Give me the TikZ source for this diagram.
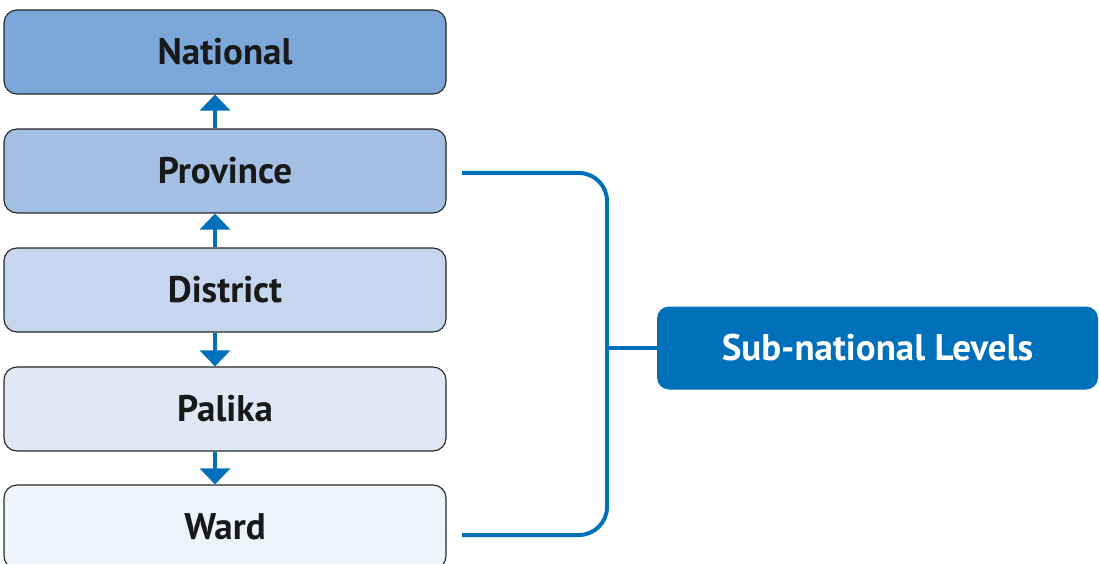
\documentclass[tikz,border=0pt]{standalone}
\usepackage{fontspec}
\setmainfont{PT Sans}
\usetikzlibrary{arrows.meta}
\definecolor{blu}{HTML}{0070BA}
\definecolor{c1}{HTML}{7CA7D9}
\definecolor{c2}{HTML}{A3BFE3}
\definecolor{c3}{HTML}{C6D6EE}
\definecolor{c4}{HTML}{E0E8F5}
\definecolor{c5}{HTML}{EEF3FA}
\tikzset{
  level/.style={draw=black!85, line width=1.1pt, rounded corners=13pt, minimum width=442pt, minimum height=84pt, inner sep=0pt, font=\fontsize{37}{40}\selectfont\bfseries, text=black!90},
  conn/.style={draw=blu, line width=3.2pt, -{Triangle[width=30pt,length=16pt]}},
  brack/.style={draw=blu, line width=4pt, rounded corners=28pt},
}
\begin{document}
\begin{tikzpicture}[x=1pt,y=-1pt]
\useasboundingbox (0,0) rectangle (1100,564);
\node[level, fill=c1] (nat) at (225,52) {National};
\node[level, fill=c2] (prov) at (225,171) {Province};
\node[level, fill=c3] (dist) at (225,290) {District};
\node[level, fill=c4] (pal) at (225,409) {Palika};
\node[level, fill=c5] (ward) at (225,527) {Ward};
\node[fill=blu, rounded corners=12pt, minimum width=441pt, minimum height=83pt, inner sep=0pt, text=white, font=\fontsize{37}{40}\selectfont\bfseries] (sub) at (877.5,348) {Sub-national Levels};
\draw[conn] ([xshift=-10pt]prov.north) -- ([xshift=-10pt]nat.south);
\draw[conn] ([xshift=-10pt]dist.north) -- ([xshift=-10pt]prov.south);
\draw[conn] ([xshift=-10pt]dist.south) -- ([xshift=-10pt]pal.north);
\draw[conn] ([xshift=-10pt]pal.south) -- ([xshift=-10pt]ward.north);
\coordinate (pa) at (462,173);
\coordinate (wa) at (462,535);
\coordinate (mid) at (607,348);
\draw[brack] (pa) -- (607,173) -- (607,535) -- (wa);
\draw[draw=blu, line width=4pt] (mid) -- (mid -| sub.west);
\end{tikzpicture}
\end{document}
